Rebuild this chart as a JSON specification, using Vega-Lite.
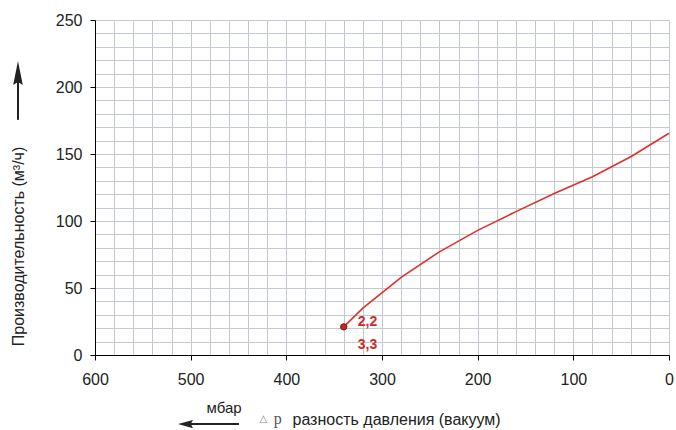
{
  "$schema": "https://vega.github.io/schema/vega-lite/v6.json",
  "width": 574,
  "height": 335,
  "autosize": "none",
  "padding": {"left": 95, "top": 20, "right": 7, "bottom": 75},
  "background": "white",
  "config": {"view": {"stroke": null}, "font": "Liberation Sans"},
  "datasets": {
    "curve": [
      {"x": 340, "y": 21},
      {"x": 320, "y": 35},
      {"x": 280, "y": 58},
      {"x": 240, "y": 77},
      {"x": 200, "y": 93},
      {"x": 160, "y": 107},
      {"x": 120, "y": 120.5},
      {"x": 80, "y": 133},
      {"x": 40, "y": 148},
      {"x": 0, "y": 165.5}
    ],
    "labels": [
      {"x": 340, "y": 24.6, "label": "2,2"},
      {"x": 340, "y": 7.5, "label": "3,3"}
    ],
    "shafts": [
      {"x": 680.5, "y": 175.5, "x2": 680.5, "y2": 205},
      {"x": 500.5, "y": -51.5, "x2": 449.5, "y2": -51.5}
    ],
    "heads": [
      {"x": 680.5, "y": 210.4, "dir": "up"},
      {"x": 505.4, "y": -51.5, "dir": "left"}
    ],
    "unit": [{"x": 465, "y": -39.6, "label": "мбар"}],
    "tri": [{"x": 424, "y": -47.5, "label": "△"}],
    "pp": [{"x": 409, "y": -48, "label": "p"}]
  },
  "encoding": {
    "x": {
      "field": "x",
      "type": "quantitative",
      "scale": {"domain": [0, 600], "reverse": true, "nice": false, "zero": false},
      "axis": {
        "values": [0,20,40,60,80,100,120,140,160,180,200,220,240,260,280,300,320,340,360,380,400,420,440,460,480,500,520,540,560,580,600],
        "grid": true,
        "gridColor": "#c4c8d0",
        "gridWidth": 1,
        "domainColor": "#000000",
        "domainWidth": 1,
        "tickColor": "#000000",
        "tickSize": 5,
        "tickOpacity": {"condition": {"test": "datum.value % 100 === 0", "value": 1}, "value": 0},
        "labelExpr": "datum.value % 100 === 0 ? datum.label : ''",
        "labelOverlap": false,
        "labelFlush": false,
        "labelFontSize": 16,
        "labelColor": "#222222",
        "labelPadding": 11,
        "title": "разность давления (вакуум)",
        "titleX": 197,
        "titleY": 64,
        "titleAlign": "left",
        "titleBaseline": "middle",
        "titleFontSize": 16,
        "titleFontWeight": "normal",
        "titleColor": "#222222"
      }
    },
    "y": {
      "field": "y",
      "type": "quantitative",
      "scale": {"domain": [0, 250], "nice": false, "zero": false},
      "axis": {
        "values": [0,10,20,30,40,50,60,70,80,90,100,110,120,130,140,150,160,170,180,190,200,210,220,230,240,250],
        "grid": true,
        "gridColor": "#c4c8d0",
        "gridWidth": 1,
        "domainColor": "#000000",
        "domainWidth": 1,
        "tickColor": "#000000",
        "tickSize": 5,
        "tickOpacity": {"condition": {"test": "datum.value % 50 === 0", "value": 1}, "value": 0},
        "labelExpr": "datum.value % 50 === 0 ? datum.label : ''",
        "labelOverlap": false,
        "labelFlush": false,
        "labelFontSize": 16,
        "labelColor": "#222222",
        "labelPadding": 8,
        "title": "Производительность (м³/ч)",
        "titleX": -77,
        "titleY": 226,
        "titleAngle": -90,
        "titleAlign": "center",
        "titleBaseline": "middle",
        "titleFontSize": 16,
        "titleFontWeight": "normal",
        "titleColor": "#222222"
      }
    }
  },
  "layer": [
    {
      "data": {"name": "curve"},
      "mark": {"type": "line", "color": "#e0302a", "strokeWidth": 1.6}
    },
    {
      "data": {"name": "curve"},
      "transform": [{"filter": "datum.x === 340"}],
      "mark": {"type": "point", "filled": true, "fill": "#d42020", "stroke": "#5a2020", "strokeWidth": 1, "size": 40, "opacity": 1}
    },
    {
      "data": {"name": "labels"},
      "mark": {"type": "text", "align": "left", "baseline": "middle", "dx": 14, "fontSize": 14, "fontWeight": "bold", "color": "#cc2a2a"},
      "encoding": {"text": {"field": "label"}}
    },
    {
      "data": {"name": "shafts"},
      "mark": {"type": "rule", "color": "#222222", "strokeWidth": 2},
      "encoding": {"x2": {"field": "x2"}, "y2": {"field": "y2"}}
    },
    {
      "data": {"name": "heads"},
      "transform": [{"filter": "datum.dir === 'up'"}],
      "mark": {"type": "point", "filled": true, "color": "#222222", "opacity": 1, "size": 576, "shape": "M0,-1L0.4,1L0,0.75L-0.4,1Z"}
    },
    {
      "data": {"name": "heads"},
      "transform": [{"filter": "datum.dir === 'left'"}],
      "mark": {"type": "point", "filled": true, "color": "#222222", "opacity": 1, "size": 225, "shape": "M-1,0L1,-0.55L0.7,0L1,0.55Z"}
    },
    {
      "data": {"name": "unit"},
      "mark": {"type": "text", "align": "center", "baseline": "middle", "fontSize": 15, "color": "#222222"},
      "encoding": {"text": {"field": "label"}}
    },
    {
      "data": {"name": "tri"},
      "mark": {"type": "text", "align": "center", "baseline": "middle", "fontSize": 10, "color": "#888888", "font": "DejaVu Sans"},
      "encoding": {"text": {"field": "label"}}
    },
    {
      "data": {"name": "pp"},
      "mark": {"type": "text", "align": "center", "baseline": "middle", "fontSize": 16, "color": "#555555", "font": "Liberation Serif"},
      "encoding": {"text": {"field": "label"}}
    }
  ]
}
